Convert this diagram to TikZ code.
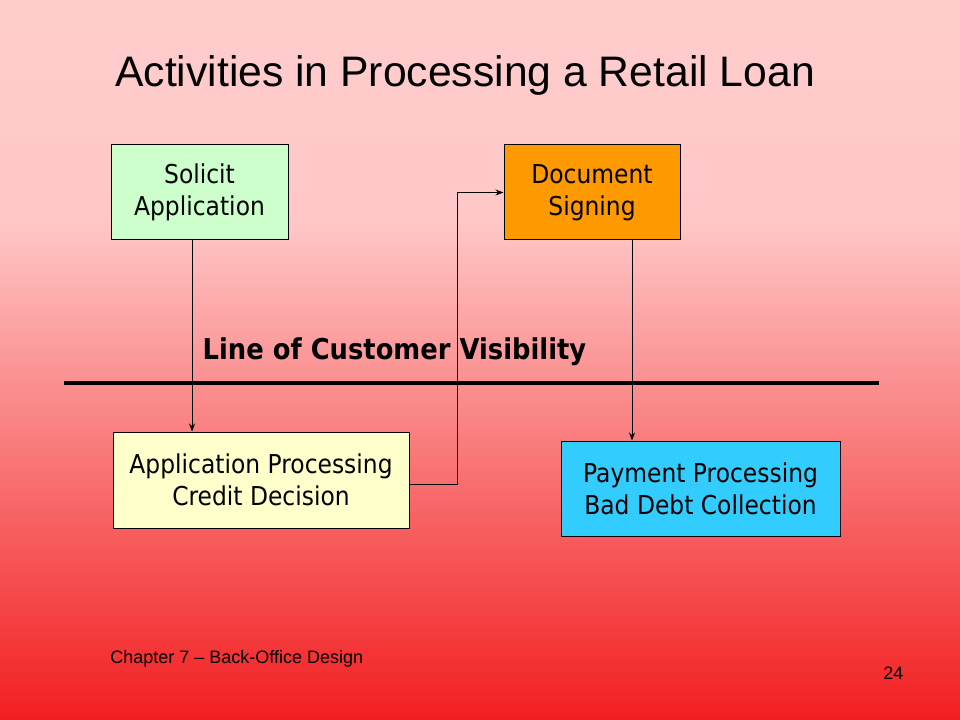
\documentclass[tikz,border=0pt]{standalone}
\usepackage{fontspec}
\setmainfont{Liberation Sans}
\newfontfamily\boxfont{DejaVu Sans}[FakeStretch=0.9]
\usetikzlibrary{arrows.meta}
\definecolor{solicitgreen}{RGB}{204,255,204}
\definecolor{signorange}{RGB}{255,153,0}
\definecolor{processyellow}{RGB}{255,255,204}
\definecolor{paymentblue}{RGB}{51,204,255}
\definecolor{bgbottom}{RGB}{242,30,32}
\definecolor{bgmid}{RGB}{255,200,200}
\definecolor{bgtop}{RGB}{255,204,204}
\pgfdeclareverticalshading{slidebg}{100bp}{color(0bp)=(bgbottom); color(25bp)=(bgbottom); color(60bp)=(bgmid); color(75bp)=(bgtop); color(100bp)=(bgtop)}
\tikzset{
  stepbox/.style={draw, line width=0.75pt, align=center, inner sep=0pt,
    font=\boxfont\fontsize{19.5}{24}\selectfont},
  flow/.style={line width=0.75pt, -{Stealth[length=6pt,width=4.5pt]}}
}
\begin{document}
\begin{tikzpicture}[x=0.75pt,y=-0.75pt]
  \useasboundingbox (0,0) rectangle (960,720);
  \shade[shading=slidebg] (0,0) rectangle (960,720);
  \node[font=\fontsize{32}{38}\selectfont, anchor=base west, inner sep=0pt] (title) at (115,87) {Activities in Processing a Retail Loan};
  % activity boxes
  \node[stepbox, fill=solicitgreen, minimum width=132.75pt, minimum height=71.25pt] (solicit) at (199.5,192.5) {Solicit\\Application};
  \node[stepbox, fill=signorange, minimum width=132pt, minimum height=71.25pt] (signing) at (592,192.5) {Document\\Signing};
  \node[stepbox, fill=processyellow, minimum width=222pt, minimum height=72pt] (process) at (261,480) {Application Processing\\Credit Decision};
  \node[stepbox, fill=paymentblue, minimum width=209.25pt, minimum height=71.25pt] (payment) at (700.5,488.5) {Payment Processing\\Bad Debt Collection};
  % line of visibility
  \path (64,383) coordinate (vleft) (879,383) coordinate (vright);
  \draw[line width=3pt] (vleft) -- (vright);
  \node[font=\boxfont\bfseries\fontsize{21.5}{26}\selectfont] (vislabel) at (394.5,352) {Line of Customer Visibility};
  % flows
  \draw[flow] ([xshift=-5.6pt]solicit.south) -- ([xshift=-5.6pt]solicit.south |- process.north);
  \draw[flow] ([yshift=-3pt]process.east) -- ++(48,0) |- (signing.west);
  \draw[flow] ([xshift=30pt]signing.south) -- ([xshift=30pt]signing.south |- payment.north);
  % footer
  \node[font=\fontsize{13.5}{16}\selectfont, anchor=base west, inner sep=0pt] (chapter) at (110,663) {Chapter 7 -- Back-Office Design};
  \node[font=\fontsize{13.5}{16}\selectfont, anchor=base west, inner sep=0pt] (pageno) at (883,679) {24};
\end{tikzpicture}
\end{document}
